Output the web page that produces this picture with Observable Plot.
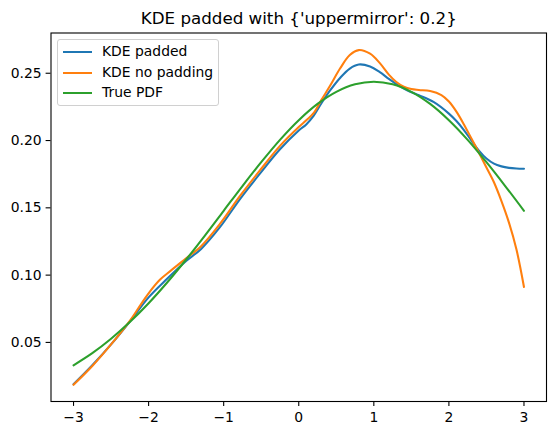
<!DOCTYPE html>
<html>
<head>
<meta charset="utf-8">
<script src="https://cdn.jsdelivr.net/npm/d3@7"></script>
<script src="https://cdn.jsdelivr.net/npm/@observablehq/plot@0.6"></script>
<style>
  body { margin: 0; background: #fff; }
  #chart { position: relative; width: 556px; height: 435px; font-family: "DejaVu Sans", sans-serif; }
  #legend { position: absolute; left: 57px; top: 39px; width: 162px; height: 67px; box-sizing: border-box;
            border: 1px solid #d0d0d0; border-radius: 3px; background: rgba(255,255,255,0.8); }
  .item { position: absolute; left: 0; font-size: 13.9px; line-height: 16px; color: #000; white-space: nowrap; }
  .sw { position: absolute; left: 5px; width: 29px; height: 2px; }
  .lbl { position: absolute; left: 44px; top: -8px; }
</style>
</head>
<body>
<div id="chart"></div>
<script>
const title = "KDE padded with {'uppermirror': 0.2}";
const seriesNames = ["KDE padded", "KDE no padding", "True PDF"];
const seriesColors = ["#1f77b4", "#ff7f0e", "#2ca02c"];
const xTicks = [-3, -2, -1, 0, 1, 2, 3];
const yTicks = [0.05, 0.10, 0.15, 0.20, 0.25];

const paddedX = [-3, -2.75, -2.5, -2.25, -2.0, -1.75, -1.5, -1.3, -1.05, -0.78, -0.52, -0.25, 0, 0.1, 0.2, 0.3, 0.415, 0.55, 0.68, 0.8, 0.95, 1.08, 1.2, 1.3, 1.45, 1.6, 1.8, 2.0, 2.1, 2.2, 2.3, 2.4, 2.5, 2.6, 2.7, 2.8, 2.9, 3.0];
const paddedY = [0.0189, 0.0330, 0.0485, 0.0655, 0.0835, 0.0975, 0.1105, 0.1195, 0.1356, 0.1567, 0.1752, 0.1935, 0.2075, 0.2120, 0.2185, 0.2275, 0.2370, 0.2465, 0.2535, 0.2565, 0.2550, 0.2508, 0.2458, 0.2420, 0.2372, 0.2337, 0.2285, 0.2200, 0.2145, 0.2078, 0.2000, 0.1925, 0.1866, 0.1828, 0.1808, 0.1797, 0.1792, 0.1790];

const nopadX = [-3, -2.75, -2.5, -2.25, -2.1, -2.0, -1.85, -1.7, -1.5, -1.3, -1.05, -0.78, -0.52, -0.25, 0, 0.1, 0.2, 0.3, 0.415, 0.55, 0.68, 0.8, 0.95, 1.08, 1.2, 1.3, 1.4, 1.5, 1.6, 1.75, 1.9, 2.0, 2.1, 2.2, 2.3, 2.39, 2.5, 2.6, 2.7, 2.8, 2.9, 3.0];
const nopadY = [0.0185, 0.0325, 0.0485, 0.0660, 0.0785, 0.0865, 0.0965, 0.1035, 0.1125, 0.1215, 0.1380, 0.1590, 0.1776, 0.1960, 0.2100, 0.2150, 0.2205, 0.2300, 0.2405, 0.2535, 0.2635, 0.2672, 0.2645, 0.2575, 0.2490, 0.2435, 0.2400, 0.2383, 0.2376, 0.2368, 0.2338, 0.2290, 0.2215, 0.2120, 0.2015, 0.1920, 0.1800, 0.1690, 0.1550, 0.1390, 0.1190, 0.0912];

const pdfX = [-3, -2.75, -2.5, -2.25, -2, -1.75, -1.5, -1.25, -1, -0.75, -0.5, -0.25, 0, 0.25, 0.5, 0.75, 1, 1.25, 1.5, 1.75, 2, 2.25, 2.5, 2.75, 3];
const pdfY = [0.0330, 0.0420, 0.0527, 0.0651, 0.0791, 0.0947, 0.1116, 0.1294, 0.1478, 0.1662, 0.1839, 0.2005, 0.2151, 0.2272, 0.2362, 0.2418, 0.2437, 0.2418, 0.2362, 0.2272, 0.2151, 0.2005, 0.1839, 0.1662, 0.1478];

const seriesXs = [paddedX, nopadX, pdfX];
const seriesYs = [paddedY, nopadY, pdfY];
const tables = seriesXs.map((xs, i) => xs.map((x, j) => ({x, y: seriesYs[i][j]})));

const fmtX = d3.format(".0f");
const fmtY = d3.format(".2f");

const chart = Plot.plot({
  width: 556,
  height: 435,
  marginLeft: 50.5,
  marginRight: 10,
  marginTop: 32.5,
  marginBottom: 34,
  x: {domain: [-3.3, 3.3]},
  y: {domain: [0.0061, 0.2799]},
  style: {fontFamily: "DejaVu Sans", fontSize: "13.9px", color: "black", background: "white"},
  marks: [
    ...tables.map((t, i) => Plot.line(t, {x: "x", y: "y", stroke: seriesColors[i], strokeWidth: 2.08, curve: "catmull-rom"})),
    Plot.frame({stroke: "black", strokeWidth: 1.1}),
    Plot.axisX({ticks: xTicks, tickFormat: fmtX, tickSize: 4.9, tickPadding: 6, strokeWidth: 1.1, label: null}),
    Plot.axisY({ticks: yTicks, tickFormat: fmtY, tickSize: 4.9, tickPadding: 4.5, strokeWidth: 1.1, label: null}),
    Plot.text([title], {text: d => d, frameAnchor: "top", lineAnchor: "top", dy: -21, fontSize: 16.7, fill: "black"})
  ]
});

const container = document.getElementById("chart");
container.appendChild(chart);

const legend = document.createElement("div");
legend.id = "legend";
seriesNames.forEach((name, i) => {
  const item = document.createElement("div");
  item.className = "item";
  item.style.top = (11.3 + i * 20.5) + "px";
  item.innerHTML = `<div class="sw" style="background:${seriesColors[i]}"></div><div class="lbl"></div>`;
  item.querySelector(".lbl").textContent = name;
  legend.appendChild(item);
});
container.appendChild(legend);
</script>
</body>
</html>
